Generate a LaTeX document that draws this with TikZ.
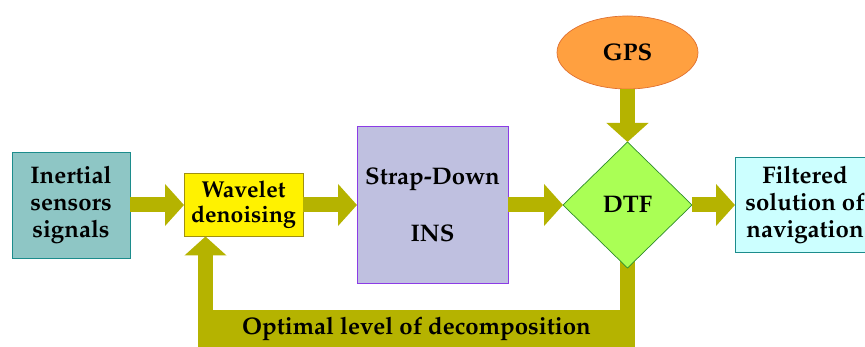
\documentclass[tikz,border=0pt]{standalone}
\usepackage[T1]{fontenc}
\usepackage{mathpazo}
\usetikzlibrary{arrows.meta,positioning,shapes.geometric,backgrounds}
\definecolor{olivearrow}{HTML}{B5B300}
\definecolor{tealfill}{HTML}{8EC6C5}
\definecolor{tealline}{HTML}{1C8C8C}
\definecolor{yellowline}{HTML}{A09010}
\definecolor{lavfill}{HTML}{BFC0E0}
\definecolor{lavline}{HTML}{8C3CE6}
\definecolor{greenfill}{HTML}{AAFF55}
\definecolor{greenline}{HTML}{2E8B2E}
\definecolor{orangefill}{HTML}{FFA040}
\definecolor{orangeline}{HTML}{E07030}
\definecolor{cyanfill}{HTML}{CCFFFF}
\tikzstyle{box}=[rectangle,inner sep=0pt,outer sep=0pt,draw,line width=0.7pt,align=center,text=black,font=\bfseries\fontsize{24}{27}\selectfont]
\tikzstyle{sensor}=[box,draw=tealline,fill=tealfill,minimum width=118pt,minimum height=106pt]
\tikzstyle{denoise}=[box,draw=yellowline,fill=yellow,minimum width=119pt,minimum height=63pt,font=\bfseries\fontsize{23}{25}\selectfont]
\tikzstyle{strapdown}=[box,draw=lavline,fill=lavfill,minimum width=151pt,minimum height=157pt]
\tikzstyle{filter}=[box,diamond,draw=greenline,fill=greenfill,minimum width=129pt,minimum height=126pt]
\tikzstyle{receiver}=[box,ellipse,draw=orangeline,fill=orangefill,minimum width=141pt,minimum height=73pt]
\tikzstyle{output}=[box,draw=tealline,fill=cyanfill,minimum width=140pt,minimum height=95pt]
\tikzstyle{band}=[box,draw=none,fill=olivearrow,minimum width=437pt,minimum height=38pt]
\tikzstyle{flow}=[draw=olivearrow,line width=15pt,-{Triangle[width=41pt,length=19pt]}]
\tikzstyle{pipe}=[draw=olivearrow,line width=15pt]
\begin{document}
\begin{tikzpicture}[x=1pt,y=-1pt]
\useasboundingbox (0,0) rectangle (865,347);

\node [sensor] (inertial) at (71,205) {Inertial\\sensors\\signals};
\node [denoise] (wavelet) at (243.5,205) {Wavelet\\denoising};
\node [strapdown] (ins) at (432.5,205) {Strap-Down\\[30pt]INS};
\node [filter] (dtf) at (627.5,205) {DTF};
\node [receiver] (gps) at (627.5,52.5) {GPS};
\node [output] (nav) at (805,205) {Filtered\\solution of\\navigation};
\node [band] (level) at (416.5,329) {Optimal level of decomposition};

\draw [flow] (inertial) -- (wavelet);
\draw [flow] (wavelet) -- (ins);
\draw [flow] (ins) -- (dtf);
\draw [flow] (dtf) -- (nav);
\draw [flow] (gps) -- (dtf);
\begin{scope}[on background layer]
  \draw [pipe] (dtf.center) -- (dtf.center |- level.north);
\end{scope}
\coordinate (back) at ([xshift=7.5pt]level.north west);
\draw [flow] (back) -- (back |- wavelet.south);

\end{tikzpicture}
\end{document}
